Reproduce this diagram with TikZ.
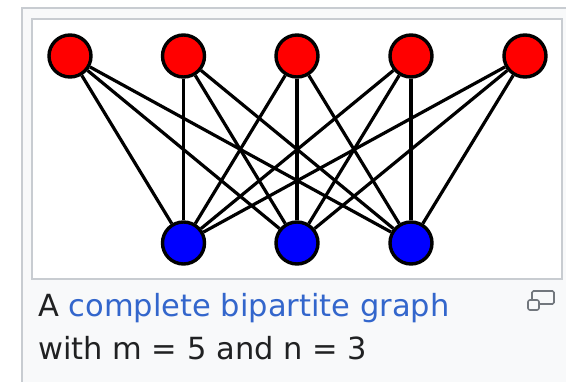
\documentclass[tikz,border=0pt]{standalone}
\usepackage{fontspec}
\setmainfont{DejaVu Sans}
\definecolor{framegray}{HTML}{C8CCD1}
\definecolor{framebg}{HTML}{F8F9FA}
\definecolor{textdark}{HTML}{202122}
\definecolor{linkblue}{HTML}{3366CC}
\definecolor{icongray}{HTML}{72777D}
\definecolor{nodered}{HTML}{FF0000}
\definecolor{nodeblue}{HTML}{0000FF}
\tikzset{
  vtx/.style={circle, draw=black, line width=3.4pt, minimum size=42pt, inner sep=0pt},
  redvtx/.style={vtx, fill=nodered},
  bluevtx/.style={vtx, fill=nodeblue},
  edgeline/.style={draw=black, line width=3.2pt},
  captext/.style={anchor=base west, inner sep=0pt, text=textdark, font=\fontsize{30.5}{40}\selectfont},
}
\begin{document}
\begin{tikzpicture}[x=1pt, y=-1pt]
\useasboundingbox (0,0) rectangle (566,382);
\fill[white] (0,0) rectangle (566,382);
% outer caption frame
\draw[framegray, fill=framebg, line width=1.2pt] (22,8) rectangle (580,400);
% inner image box
\draw[framegray, fill=white, line width=1.2pt] (32,19) rectangle (562,279);
% nodes
\node[redvtx] (r1) at (70,56) {};
\node[redvtx] (r2) at (183.5,56) {};
\node[redvtx] (r3) at (297,56) {};
\node[redvtx] (r4) at (411,56) {};
\node[redvtx] (r5) at (525,56) {};
\node[bluevtx] (b1) at (183.5,243) {};
\node[bluevtx] (b2) at (297,243) {};
\node[bluevtx] (b3) at (411,243) {};
% edges
\foreach \r in {r1,r2,r3,r4,r5}{
  \foreach \b in {b1,b2,b3}{
    \draw[edgeline] (\r) -- (\b);
  }
}
% caption
\node[captext] (cap1) at (38,317) {A \textcolor{linkblue}{complete bipartite graph}};
\node[captext] (cap2) at (38,360) {with m = 5 and n = 3};
% enlarge icon
\draw[icongray, line width=1.6pt, rounded corners=1.5pt] (532,291) rectangle (554,304);
\draw[icongray, fill=framebg, line width=1.6pt, rounded corners=2pt] (528,300) rectangle (539,310);
\end{tikzpicture}
\end{document}
